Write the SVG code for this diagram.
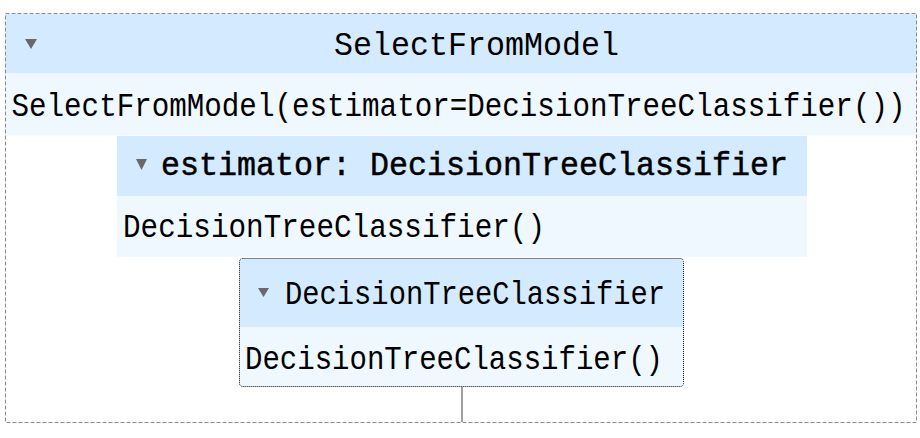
<svg xmlns="http://www.w3.org/2000/svg" width="920" height="438" viewBox="0 0 920 438">
<style>
.t{font-family:"Liberation Mono","DejaVu Sans Mono",monospace;font-size:33px;fill:#000}
.b{stroke:#000;stroke-width:0.5}
.hd{fill:#d4ebff}
.bd{fill:#f0f8ff}
.tri{fill:#696969}
</style>
<rect width="920" height="438" fill="#fff"/>
<g id="connectors">
<line x1="462" y1="387" x2="462" y2="422" stroke="#808080" stroke-width="1.5"/>
</g>
<g id="select-from-model">
<rect class="hd" x="5.5" y="14" width="911" height="59.5"/>
<rect class="bd" x="5.5" y="73.5" width="911" height="62"/>
<polygon class="tri" points="25,39 37,39 31,49"/>
<text class="t" x="334" y="55" textLength="285" lengthAdjust="spacingAndGlyphs" style="font-size:34px">SelectFromModel</text>
<text class="t" x="11.5" y="116" textLength="894" lengthAdjust="spacingAndGlyphs" style="font-size:29.2px" transform="translate(0,116) scale(1,1.12) translate(0,-116)">SelectFromModel(estimator=DecisionTreeClassifier())</text>
</g>
<g id="estimator">
<rect class="hd" x="117" y="136" width="690" height="60"/>
<rect class="bd" x="117" y="196" width="690" height="61"/>
<polygon class="tri" points="136,159 147,159 141.5,170"/>
<text class="t b" x="161" y="175" textLength="627" lengthAdjust="spacingAndGlyphs">estimator: DecisionTreeClassifier</text>
<text class="t" x="123" y="236.5" textLength="422" lengthAdjust="spacingAndGlyphs">DecisionTreeClassifier()</text>
</g>
<g id="decision-tree">
<rect class="hd" x="239.5" y="258.5" width="444" height="128" rx="3"/>
<path class="bd" d="M239.5,327 H683.5 V383.5 a3,3 0 0 1 -3,3 H242.5 a3,3 0 0 1 -3,-3 Z"/>
<rect x="239.5" y="258.5" width="444" height="128" rx="3" fill="none" stroke="#111" stroke-width="1" stroke-dasharray="1,1"/>
<polygon class="tri" points="258,288 269,288 263.5,297"/>
<text class="t" x="285" y="303.5" textLength="380" lengthAdjust="spacingAndGlyphs">DecisionTreeClassifier</text>
<text class="t" x="245" y="368.5" textLength="418" lengthAdjust="spacingAndGlyphs">DecisionTreeClassifier()</text>
</g>
<rect x="5.5" y="13.5" width="911" height="409" fill="none" stroke="#8c8c8c" stroke-width="1" stroke-dasharray="4,2"/>
</svg>
